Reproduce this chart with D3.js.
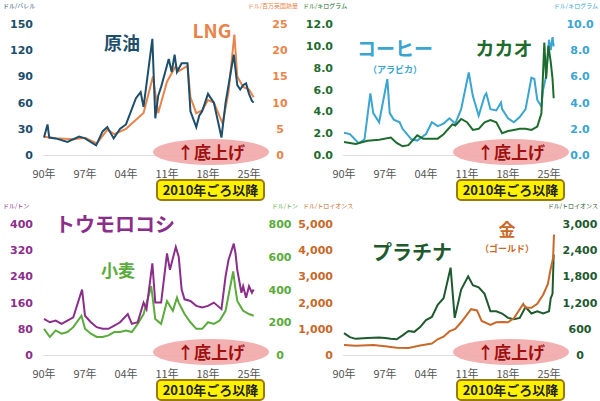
<!DOCTYPE html>
<html><head><meta charset="utf-8">
<script src="https://cdn.jsdelivr.net/npm/d3@7"></script>
<style>body{margin:0;background:#fff}svg{font-family:"Noto Sans CJK JP","Noto Sans",sans-serif}</style>
</head><body><svg id="c" width="600" height="401"></svg>
<script>
// [decimal year, value]
var crude = [[1990,20],[1990.6,35],[1990.9,20],[1992,19],[1994,15],[1996,21],[1997,19],[1998.9,11],[2000,27],[2000.8,32],[2001.9,19],[2003,30],[2004,35],[2005.7,65],[2006.5,72],[2007,55],[2008.5,133],[2009,42],[2009.5,68],[2010,78],[2011.3,110],[2011.8,95],[2012.3,115],[2012.7,95],[2013.5,105],[2014.5,105],[2015,50],[2016,32],[2016.5,45],[2017,50],[2018,70],[2019,60],[2020.3,20],[2021,60],[2022.4,115],[2023,80],[2023.5,75],[2024,80],[2024.5,82],[2025,70],[2025.5,62],[2025.8,60]];
var lng = [[1990,3.5],[1992,3.2],[1995,3],[1997,3.3],[1999,2.2],[2000.8,4.8],[2002,4],[2004,5],[2005,6],[2006,7],[2007,8],[2008.6,15],[2009.5,8],[2010,10],[2011,14],[2012.5,17],[2013,16],[2014.5,17],[2015,11],[2016,8],[2017,8.5],[2018,10.5],[2019,10],[2020.5,6],[2021.5,12],[2022.5,23],[2023,15],[2024,13],[2025,12.5],[2025.8,11]];
var coffee = [[1990,1.7],[1991,1.6],[1992.5,0.9],[1993.5,1.2],[1994.5,4.7],[1995,3.2],[1996,2.5],[1997.4,5.8],[1997.8,3.2],[1998.5,2.7],[1999.5,2.5],[2000,2],[2001.5,1.2],[2002.5,1.1],[2004,1.6],[2005,2.5],[2006,2.2],[2007,2.4],[2008,2.8],[2009,2.4],[2010,3.5],[2011.3,6.3],[2012,4.5],[2013,3],[2014,4.5],[2014.3,4.7],[2015,3.5],[2016,3.4],[2016.8,4],[2017,3.5],[2018,2.8],[2019,2.5],[2020,2.9],[2021,3.5],[2022,5.9],[2022.5,5.8],[2023,4.2],[2023.7,3.7],[2024,5],[2024.5,6],[2025,8.8],[2025.3,8],[2025.6,9],[2025.8,8.3]];
var cacao = [[1990,1.2],[1991,1.1],[1992,1],[1994,1.3],[1996,1.4],[1998,1.6],[1999,1.1],[2000,0.8],[2001,0.9],[2002.5,1.8],[2003.5,1.5],[2004,1.5],[2006,1.5],[2007,1.9],[2008.5,2.8],[2009,2.7],[2010,3.3],[2011,3],[2012,2.3],[2013,2.4],[2014,3],[2015,3.2],[2016,3],[2017,2],[2018,2.2],[2019,2.3],[2020,2.4],[2021,2.4],[2022,2.3],[2023,2.6],[2023.7,3.8],[2024.2,10.3],[2024.5,7],[2024.9,10],[2025.3,8.5],[2025.6,7],[2025.8,5.2]];
var corn = [[1990,110],[1991,100],[1992,105],[1993,95],[1994,105],[1995,115],[1996.5,200],[1997,120],[1998,100],[1999,85],[2000,80],[2001,80],[2002,90],[2003,100],[2004.3,125],[2005,95],[2006,100],[2007,160],[2007.5,140],[2008.5,280],[2009,160],[2010,160],[2011,310],[2011.5,260],[2012.5,330],[2013,300],[2013.5,200],[2014,170],[2015,165],[2016,150],[2017,145],[2018,150],[2019,160],[2020.3,140],[2021,240],[2021.5,290],[2022.4,340],[2022.7,310],[2023,260],[2023.7,190],[2024,210],[2024.5,175],[2025,210],[2025.5,190],[2025.8,200]];
var wheat = [[1990,160],[1991,110],[1992,150],[1993,130],[1994,140],[1995,170],[1996.4,240],[1997,160],[1998,130],[1999,110],[2000,110],[2001,120],[2002,140],[2003,140],[2004,150],[2005,140],[2006,190],[2007,250],[2008.3,420],[2009,220],[2010,190],[2011,330],[2012,270],[2012.7,350],[2013,320],[2014,250],[2015,200],[2016,160],[2017,160],[2018,200],[2019,190],[2020,210],[2021,270],[2022.3,510],[2022.7,400],[2023,330],[2024,270],[2025,250],[2025.8,240]];
var gold = [[1990,380],[1992,350],[1995,385],[1997,330],[1999,280],[2001,270],[2003,360],[2005,440],[2006,600],[2007,700],[2008,900],[2009,1000],[2010,1250],[2011.7,1750],[2012.7,1700],[2013.5,1300],[2015,1150],[2016,1250],[2017,1260],[2018,1250],[2019,1400],[2020.6,1950],[2021,1800],[2022,1800],[2023,1950],[2024,2300],[2024.8,2700],[2025.3,3300],[2025.7,3700],[2025.85,4600]];
var platinum = [[1990,500],[1991,410],[1992,370],[1994,390],[1996,400],[1997,390],[1998,370],[1999,360],[2000,450],[2001,550],[2002,530],[2003,640],[2004,800],[2005,870],[2006,1150],[2007,1300],[2008.2,2000],[2008.9,850],[2009.5,1200],[2010,1500],[2011.2,1800],[2011.8,1650],[2012,1600],[2013,1550],[2014,1400],[2015,1000],[2016,1000],[2017,950],[2018,850],[2019,820],[2020,850],[2021,1100],[2022,950],[2023,1000],[2024,950],[2025,1000],[2025.3,1300],[2025.6,1400],[2025.8,2300]];
var xTicks = [1990, 1997, 2004, 2011, 2018, 2025];

var panels = [
  {x:0, y:0, left:{max:150, ticks:[0,30,60,90,120,150], fmt:d3.format("d"), unit:"ドル/バレル", color:"#1d4e6b", data:crude},
   right:{max:25, ticks:[0,5,10,15,20,25], fmt:d3.format("d"), unit:"ドル/百万英国熱量", color:"#e8844a", data:lng},
   labels:[{t:"原油", x:122, y:50, c:"#1d4e6b", s:18}, {t:"LNG", x:212, y:38, c:"#e8844a", s:19}]},
  {x:300, y:0, left:{max:12, ticks:[0,2,4,6,8,10,12], fmt:d3.format(".1f"), unit:"ドル/キログラム", color:"#1e6b2e", data:cacao},
   right:{max:10, ticks:[0,2,4,6,8,10], fmt:d3.format(".1f"), unit:"ドル/キログラム", color:"#3aa5d0", data:coffee},
   labels:[{t:"コーヒー", x:95, y:56, c:"#3aa5d0", s:19}, {t:"（アラビカ）", x:95, y:73, c:"#3aa5d0", s:9}, {t:"カカオ", x:204, y:56, c:"#1e6b2e", s:19}]},
  {x:0, y:200, left:{max:400, ticks:[0,80,160,240,320,400], fmt:d3.format("d"), unit:"ドル/トン", color:"#8b2e8b", data:corn},
   right:{max:800, ticks:[0,200,400,600,800], fmt:d3.format("d"), unit:"ドル/トン", color:"#5aab3c", data:wheat},
   labels:[{t:"トウモロコシ", x:115, y:32, c:"#8b2e8b", s:20}, {t:"小麦", x:118, y:77, c:"#5aab3c", s:17}]},
  {x:300, y:200, left:{max:5000, ticks:[0,1000,2000,3000,4000,5000], fmt:d3.format(","), unit:"ドル/トロイオンス", color:"#c8692a", data:gold},
   right:{max:3000, ticks:[0,600,1200,1800,2400,3000], fmt:d3.format(","), unit:"ドル/トロイオンス", color:"#1e5a2e", data:platinum},
   labels:[{t:"プラチナ", x:112, y:60, c:"#1e5a2e", s:20}, {t:"金", x:207, y:36, c:"#c8692a", s:17}, {t:"（ゴールド）", x:207, y:52, c:"#c8692a", s:9}]}
];

var svg = d3.select("#c");
var x = d3.scaleLinear().domain([1990, 2025]).range([44, 249]);

panels.forEach(function(p) {
  var g = svg.append("g").attr("transform", "translate(" + p.x + "," + p.y + ")");
  var yL = d3.scaleLinear().domain([0, p.left.max]).range([155, 24]);
  var yR = d3.scaleLinear().domain([0, p.right.max]).range([155, 24]);

  g.append("line").attr("x1", 43).attr("x2", 258).attr("y1", 155.5).attr("y2", 155.5).attr("stroke", "#ddd");

  [[p.left, yL, 33, "end"], [p.right, yR, 280, "middle"]].forEach(function(a) {
    g.selectAll(null).data(a[0].ticks).enter().append("text")
      .attr("x", a[2]).attr("y", d => a[1](d) + 4)
      .attr("text-anchor", a[3]).attr("font-size", 11).attr("font-weight", "bold")
      .attr("font-family", "Verdana, DejaVu Sans, sans-serif")
      .attr("fill", a[0].color).text(a[0].fmt);
  });
  g.append("text").attr("x", 3).attr("y", 8).attr("font-size", 6).attr("fill", p.left.color).text(p.left.unit);
  g.append("text").attr("x", 298).attr("y", 8).attr("text-anchor", "end").attr("font-size", 6).attr("fill", p.right.color).text(p.right.unit);

  g.selectAll(null).data(xTicks).enter().append("text")
    .attr("x", d => x(d)).attr("y", 178).attr("text-anchor", "middle")
    .attr("font-size", 11).attr("fill", "#555").text(d => String(d).slice(2) + "年");

  g.append("ellipse").attr("cx", 211).attr("cy", 152).attr("rx", 58).attr("ry", 13).attr("fill", "#f2a7a7").attr("opacity", 0.9);

  var line = d3.line().x(d => x(d[0]));
  g.append("path").datum(p.right.data).attr("fill", "none").attr("stroke", p.right.color).attr("stroke-width", 2)
    .attr("d", line.y(d => yR(d[1])));
  g.append("path").datum(p.left.data).attr("fill", "none").attr("stroke", p.left.color).attr("stroke-width", 2)
    .attr("d", line.y(d => yL(d[1])));

  g.append("text").attr("x", 211).attr("y", 159).attr("text-anchor", "middle").attr("font-size", 17)
    .attr("font-weight", "bold").attr("fill", "#a01010").text("↑底上げ");

  g.append("rect").attr("x", 157).attr("y", 180).attr("width", 107).attr("height", 20).attr("rx", 4)
    .attr("fill", "#fff200").attr("stroke", "#9a7a10").attr("stroke-width", 2);
  g.append("text").attr("x", 210.5).attr("y", 195).attr("text-anchor", "middle").attr("font-size", 13)
    .attr("font-weight", "bold").attr("fill", "#222").text("2010年ごろ以降");

  p.labels.forEach(function(l) {
    g.append("text").attr("x", l.x).attr("y", l.y).attr("text-anchor", "middle").attr("font-size", l.s)
      .attr("font-weight", "bold").attr("fill", l.c).text(l.t);
  });
});
</script></body></html>
